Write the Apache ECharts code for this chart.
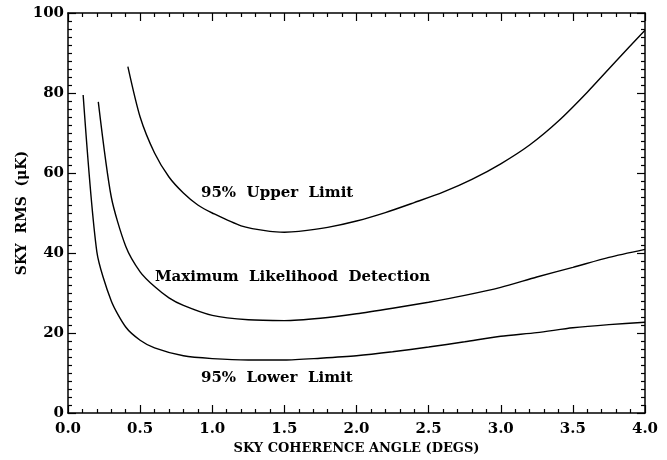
<!DOCTYPE html>
<html>
<head>
<meta charset="utf-8">
<script src="https://cdn.jsdelivr.net/npm/echarts@6/dist/echarts.min.js"></script>
<style>
html,body{margin:0;padding:0;background:#fff;}
#main{width:667px;height:460px;}
</style>
</head>
<body>
<div id="main"></div>
<script>
// 曲线数据 (角度 deg, RMS uK)
var lowerX = [0.105, 0.2, 0.3, 0.4, 0.5, 0.6, 0.8, 1.0, 1.25, 1.5, 1.75, 2.0, 2.25, 2.5, 2.75, 3.0, 3.25, 3.5, 3.75, 4.0];
var lowerY = [79.5, 40.3, 28, 21.5, 18.2, 16.3, 14.3, 13.6, 13.25, 13.25, 13.7, 14.3, 15.3, 16.5, 17.8, 19.2, 20.1, 21.3, 22.1, 22.7];

var mlX = [0.21, 0.3, 0.4, 0.5, 0.6, 0.7, 0.8, 1.0, 1.25, 1.5, 1.75, 2.0, 2.25, 2.5, 2.75, 3.0, 3.25, 3.5, 3.75, 4.0];
var mlY = [77.8, 54, 41.7, 35.3, 31.6, 28.8, 26.9, 24.4, 23.3, 23.1, 23.7, 24.8, 26.2, 27.7, 29.4, 31.4, 34.0, 36.4, 38.9, 40.9];

var upperX = [0.415, 0.5, 0.6, 0.7, 0.8, 0.9, 1.0, 1.2, 1.4, 1.5, 1.6, 1.8, 2.0, 2.2, 2.4, 2.6, 2.8, 3.0, 3.2, 3.4, 3.6, 3.8, 4.0];
var upperY = [86.6, 74, 65, 59, 55, 52, 50, 46.8, 45.4, 45.2, 45.4, 46.4, 48, 50.1, 52.6, 55.2, 58.4, 62.3, 67.0, 73.0, 80.2, 88, 95.7];

var xTicks = ['0.0', '0.5', '1.0', '1.5', '2.0', '2.5', '3.0', '3.5', '4.0'];
var yTicks = ['0', '20', '40', '60', '80', '100'];

function pairs(xs, ys) {
    return xs.map(function (x, i) { return [x, ys[i]]; });
}

var font = 'DejaVu Serif';

var mychart = echarts.init(document.getElementById('main'));

function makeX(pos, show) {
    return {
        type: 'value', position: pos, min: 0, max: 4, interval: 0.5,
        name: show ? 'SKY COHERENCE ANGLE (DEGS)' : '',
        nameLocation: 'middle', nameGap: 27,
        nameTextStyle: { fontFamily: font, fontWeight: 'bold', fontSize: 13, color: '#000' },
        axisLine: { show: true, onZero: false, lineStyle: { color: '#000', width: 1.5 } },
        axisTick: { show: true, inside: true, length: 8, lineStyle: { color: '#000', width: 1.2 } },
        minorTick: { show: true, splitNumber: 5, length: 4, lineStyle: { color: '#000', width: 1.2 } },
        axisLabel: {
            show: show, margin: 9, fontFamily: font, fontWeight: 'bold', fontSize: 15, color: '#000',
            formatter: function (v) { return xTicks[Math.round(v / 0.5)]; }
        },
        splitLine: { show: false }
    };
}

function makeY(pos, show) {
    return {
        type: 'value', position: pos, min: 0, max: 100, interval: 20,
        name: show ? 'SKY  RMS  (\u03bcK)' : '',
        nameLocation: 'middle', nameGap: 39, nameRotate: 90, nameMoveOverlap: false,
        nameTextStyle: { fontFamily: font, fontWeight: 'bold', fontSize: 14, color: '#000' },
        axisLine: { show: true, onZero: false, lineStyle: { color: '#000', width: 1.5 } },
        axisTick: { show: true, inside: true, length: 8, lineStyle: { color: '#000', width: 1.2 } },
        minorTick: { show: true, splitNumber: 10, length: 4, lineStyle: { color: '#000', width: 1.2 } },
        axisLabel: {
            show: show, margin: 4, fontFamily: font, fontWeight: 'bold', fontSize: 15, color: '#000',
            formatter: function (v) { return yTicks[Math.round(v / 20)]; }
        },
        splitLine: { show: false }
    };
}

function curve(name, xs, ys) {
    return {
        name: name, type: 'line', xAxisIndex: 0, yAxisIndex: 0,
        data: pairs(xs, ys),
        smooth: 0.25,
        symbol: 'none',
        lineStyle: { color: '#000', width: 1.4 }
    };
}

var labelStyle = { fontFamily: font, fontWeight: 'bold', fontSize: 15, fill: '#000' };

var option = {
    animation: false,
    backgroundColor: '#fff',
    grid: { left: 68, right: 22, top: 13, bottom: 47, outerBoundsMode: 'none', containLabel: false },
    xAxis: [makeX('bottom', true), makeX('top', false)],
    yAxis: [makeY('left', true), makeY('right', false)],
    series: [
        curve('95% Lower Limit', lowerX, lowerY),
        curve('Maximum Likelihood Detection', mlX, mlY),
        curve('95% Upper Limit', upperX, upperY)
    ],
    graphic: [
        { type: 'text', left: 201, top: 186, style: Object.assign({ text: '95%  Upper  Limit' }, labelStyle) },
        { type: 'text', left: 155, top: 270, style: Object.assign({ text: 'Maximum  Likelihood  Detection' }, labelStyle) },
        { type: 'text', left: 201, top: 371, style: Object.assign({ text: '95%  Lower  Limit' }, labelStyle) }
    ]
};

mychart.setOption(option);
</script>
</body>
</html>
